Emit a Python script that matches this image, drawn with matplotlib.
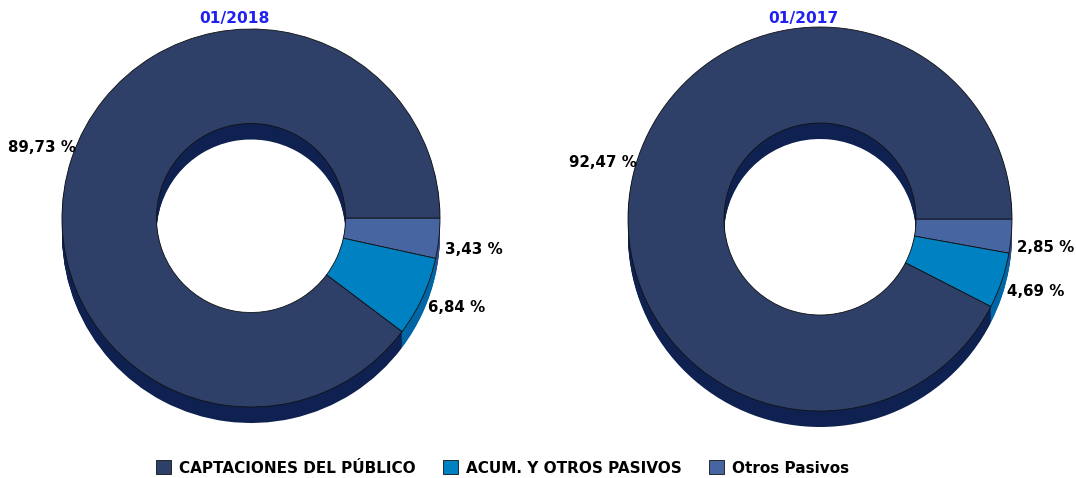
import numpy as np
import matplotlib
matplotlib.use('Agg')
import matplotlib.pyplot as plt

plt.rcParams['font.family'] = ['DejaVu Sans']

# datos
categorias = ['CAPTACIONES DEL PÚBLICO', 'ACUM. Y OTROS PASIVOS', 'Otros Pasivos']
val_2018 = [89.73, 6.84, 3.43]
val_2017 = [92.47, 4.69, 2.85]
titulos = ['01/2018', '01/2017']

col_top = ['#2E3F68', '#0082C2', '#4665A1']
col_side = ['#0E2150', '#0066A6', '#2F4E89']

fig = plt.figure(figsize=(10.76, 4.78), dpi=100)
ax = fig.add_axes([0, 0, 1, 1])

H = 478
charts = [(val_2018, (251, H - 218), 189), (val_2017, (820, H - 219), 192)]
depth = 16
wedges_top = None

for (vals, (cx, cy), r), tit in zip(charts, titulos):
    # orden: empieza en las 3 en punto, sentido horario
    v = vals[::-1]
    ct = col_top[::-1]
    cs = col_side[::-1]
    for d in range(depth, 0, -1):
        ax.pie(v, center=(cx, cy - d), radius=r, colors=cs, startangle=0,
               counterclock=False, wedgeprops=dict(width=0.5 * r, edgecolor='none', linewidth=0))
    w, _ = ax.pie(v, center=(cx, cy), radius=r, colors=ct, startangle=0,
                  counterclock=False, wedgeprops=dict(width=0.5 * r, edgecolor='#111111', linewidth=0.6))
    if wedges_top is None:
        wedges_top = w[::-1]
    # etiquetas
    tot = sum(v)
    ang = 0.0
    for val in v:
        mid = np.deg2rad(ang - val / tot * 360 / 2)
        ang -= val / tot * 360
        c, s = np.cos(mid), np.sin(mid)
        txt = ('%.2f %%' % val).replace('.', ',')
        if c < 0:
            x = cx + 1.0 * r * c + 4
            y = cy + r * s - 0.06 * r * c
            ax.text(x, y, txt, ha='right', va='center', fontsize=10.8, fontweight='bold', color='black')
        else:
            x = cx + 1.03 * r * c
            y = cy + r * s - 0.06 * r * c
            ax.text(x, y, txt, ha='left', va='center', fontsize=10.8, fontweight='bold', color='black')
    ax.text(cx - 17, H - 18, tit, ha='center', va='center', fontsize=11.2,
            fontweight='bold', color='#2020F0')

ax.set_xlim(0, 1076)
ax.set_ylim(0, H)
ax.set_aspect('equal')
ax.axis('off')

fig.legend(wedges_top, categorias, loc='center', bbox_to_anchor=(0.467, 1 - 468 / H),
           ncol=3, frameon=False, handlelength=1.0, handleheight=1.0,
           handletextpad=0.5, columnspacing=1.8,
           prop=dict(weight='bold', size=11))

fig.savefig('out.png', dpi=100)
